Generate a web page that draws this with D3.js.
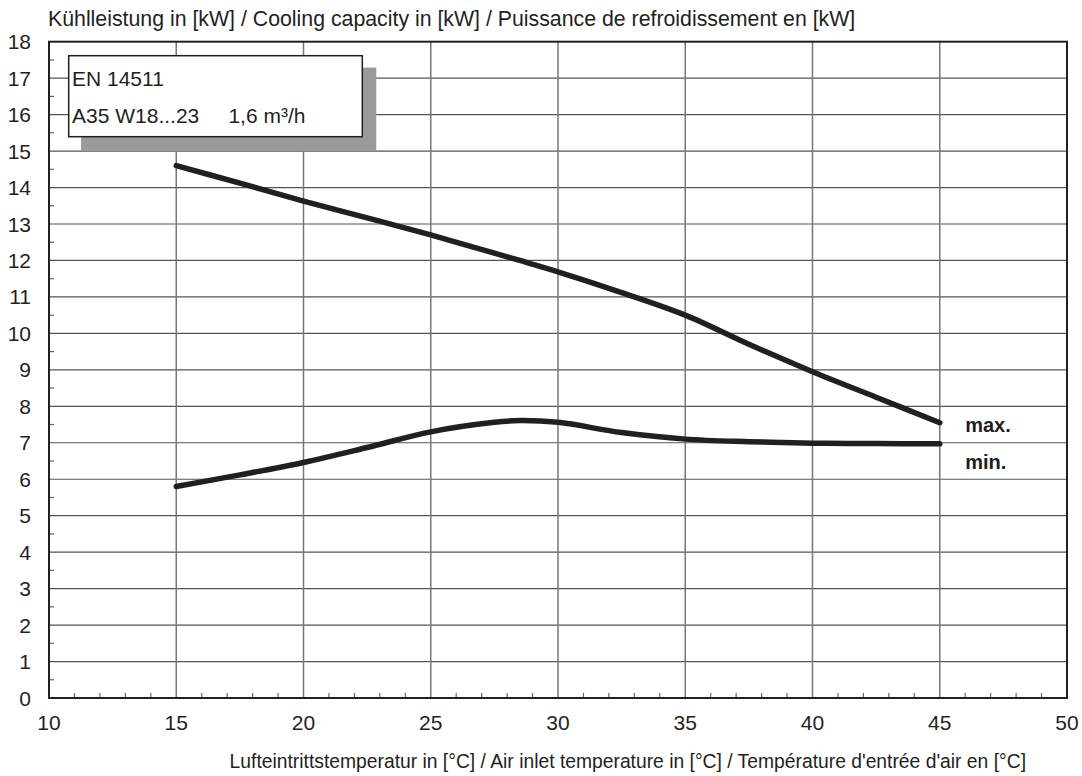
<!DOCTYPE html>
<html>
<head>
<meta charset="utf-8">
<script src="https://cdn.jsdelivr.net/npm/d3@7"></script>
<style>
  body { margin: 0; background: #fff; }
  text { font-family: "Liberation Sans", Arial, sans-serif; fill: #231f20; }
</style>
</head>
<body>
<div id="chart"></div>
<script>
// Data
var temps = [15, 17.5, 20, 22.5, 25, 27.5, 28.5, 30, 32.5, 35, 37.5, 40, 42.5, 45];
var maxCapacity = [14.6, 14.12, 13.63, 13.17, 12.7, 12.2, 12.0, 11.69, 11.12, 10.5, 9.7, 8.95, 8.25, 7.55];
var minCapacity = [5.8, 6.12, 6.46, 6.87, 7.3, 7.56, 7.61, 7.56, 7.28, 7.1, 7.03, 6.99, 6.98, 6.97];
var xTicks = [10, 15, 20, 25, 30, 35, 40, 45, 50];
var yTicks = d3.range(0, 19);
var legendLines = ["EN 14511", "A35 W18...23     1,6 m³/h"];

var width = 1082, height = 776;
var margin = { top: 41.7, right: 15, bottom: 78, left: 49 };

var svg = d3.select("#chart").append("svg")
    .attr("width", width)
    .attr("height", height);

var x = d3.scaleLinear().domain([10, 50]).range([margin.left, width - margin.right]);
var y = d3.scaleLinear().domain([0, 18]).range([height - margin.bottom, margin.top]);

// horizontal grid
svg.append("g").selectAll("line")
    .data(yTicks.slice(1, -1))
    .enter().append("line")
    .attr("x1", x(10)).attr("x2", x(50))
    .attr("y1", d => y(d)).attr("y2", d => y(d))
    .attr("stroke", "#555").attr("stroke-width", 1.2);

// vertical grid
svg.append("g").selectAll("line")
    .data(xTicks.slice(1, -1))
    .enter().append("line")
    .attr("x1", d => x(d)).attr("x2", d => x(d))
    .attr("y1", y(0)).attr("y2", y(18))
    .attr("stroke", "#777").attr("stroke-width", 1.5);

// minor ticks on x axis (every 1 degree)
svg.append("g").selectAll("line")
    .data(d3.range(11, 50).filter(d => d % 5 !== 0))
    .enter().append("line")
    .attr("x1", d => x(d)).attr("x2", d => x(d))
    .attr("y1", y(0)).attr("y2", y(0) - 5)
    .attr("stroke", "#666").attr("stroke-width", 1.2);

// minor ticks on y axis (every 0.5 kW)
svg.append("g").selectAll("line")
    .data(d3.range(0.5, 18, 1))
    .enter().append("line")
    .attr("x1", x(10)).attr("x2", x(10) + 5)
    .attr("y1", d => y(d)).attr("y2", d => y(d))
    .attr("stroke", "#666").attr("stroke-width", 1.2);

// legend box with shadow
var lx0 = 11.26, lx1 = 22.86, ly0 = 15, ly1 = 17.29;
svg.append("rect")
    .attr("x", x(lx0)).attr("y", y(ly1))
    .attr("width", x(lx1) - x(lx0)).attr("height", y(ly0) - y(ly1))
    .attr("fill", "#9a9a9a");
svg.append("rect")
    .attr("x", 68.7).attr("y", 55.7)
    .attr("width", 293.6).attr("height", 81)
    .attr("fill", "#fff").attr("stroke", "#231f20").attr("stroke-width", 1.5);
svg.append("g").selectAll("text")
    .data(legendLines)
    .enter().append("text")
    .attr("x", 72).attr("y", (d, i) => y(17 - i) + 8)
    .attr("font-size", 21)
    .attr("xml:space", "preserve")
    .style("white-space", "pre")
    .text(d => d);

// curves
var line = d3.line()
    .x(d => x(d[0]))
    .y(d => y(d[1]))
    .curve(d3.curveCatmullRom.alpha(0.5));

[maxCapacity, minCapacity].forEach(function (series) {
    svg.append("path")
        .datum(temps.map((t, i) => [t, series[i]]))
        .attr("d", line)
        .attr("fill", "none")
        .attr("stroke", "#231f20")
        .attr("stroke-width", 5.5)
        .attr("stroke-linecap", "round")
        .attr("stroke-linejoin", "round");
});

// series labels
svg.append("text").attr("x", x(46)).attr("y", y(7.5) + 7.5)
    .attr("font-size", 20).attr("font-weight", "bold").text("max.");
svg.append("text").attr("x", x(46)).attr("y", y(6.5) + 7.5)
    .attr("font-size", 20).attr("font-weight", "bold").text("min.");

// frame
svg.append("rect")
    .attr("x", x(10)).attr("y", y(18))
    .attr("width", x(50) - x(10)).attr("height", y(0) - y(18))
    .attr("fill", "none").attr("stroke", "#231f20").attr("stroke-width", 2);

// tick labels
svg.append("g").selectAll("text")
    .data(yTicks)
    .enter().append("text")
    .attr("x", 31).attr("y", d => y(d) + 7.5)
    .attr("text-anchor", "end")
    .attr("font-size", 21)
    .text(d => d);

svg.append("g").selectAll("text")
    .data(xTicks)
    .enter().append("text")
    .attr("x", d => x(d)).attr("y", y(0) + 32)
    .attr("text-anchor", "middle")
    .attr("font-size", 21)
    .text(d => d);

// axis titles
svg.append("text").attr("x", 48).attr("y", 26)
    .attr("font-size", 21.3)
    .text("Kühlleistung in [kW] / Cooling capacity in [kW] / Puissance de refroidissement en [kW]");
svg.append("text").attr("x", 1026).attr("y", 768)
    .attr("text-anchor", "end")
    .attr("font-size", 19.3)
    .text("Lufteintrittstemperatur in [°C] / Air inlet temperature in [°C] / Température d'entrée d'air en [°C]");
</script>
</body>
</html>
